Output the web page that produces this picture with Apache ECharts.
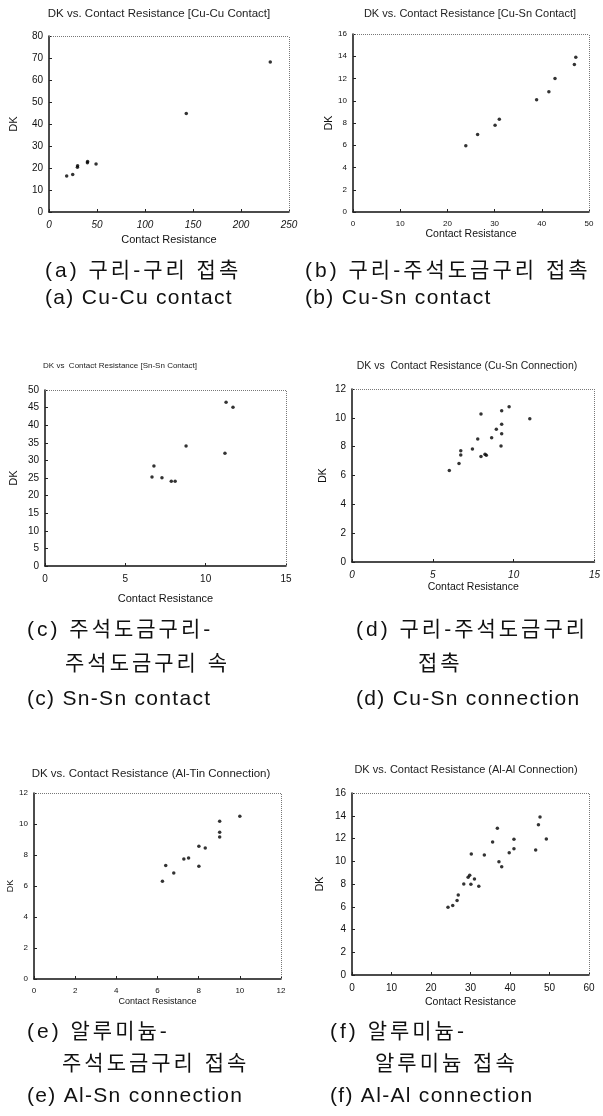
<!DOCTYPE html>
<html><head><meta charset="utf-8">
<script src="https://cdn.jsdelivr.net/npm/echarts@6/dist/echarts.min.js"></script>
<style>html,body{margin:0;padding:0;background:#fff}#c{width:603px;height:1116px}</style>
</head><body><div id="c"></div>
<script>
// ---------- data ----------
const xName = 'Contact Resistance';
const yName = 'DK';

const titleA = 'DK vs. Contact Resistance [Cu-Cu Contact]';
const titleB = 'DK vs. Contact Resistance [Cu-Sn Contact]';
const titleC = 'DK vs  Contact Resistance [Sn-Sn Contact]';
const titleD = 'DK vs  Contact Resistance (Cu-Sn Connection)';
const titleE = 'DK vs. Contact Resistance (Al-Tin Connection)';
const titleF = 'DK vs. Contact Resistance (Al-Al Connection)';

const xTicksA = [0, 50, 100, 150, 200, 250];
const yTicksA = [0, 10, 20, 30, 40, 50, 60, 70, 80];
const xA = [18.4, 24.7, 29.6, 29.8, 40.0, 40.2, 49.0, 143.0, 230.5];
const yA = [16.4, 17.1, 20.3, 21.0, 22.4, 23.0, 21.8, 44.8, 68.2];

const xTicksB = [0, 10, 20, 30, 40, 50];
const yTicksB = [0, 2, 4, 6, 8, 10, 12, 14, 16];
const xB = [23.9, 26.4, 30.1, 31.0, 38.9, 41.5, 42.8, 46.9, 47.2];
const yB = [5.95, 6.97, 7.8, 8.34, 10.08, 10.8, 12.0, 13.25, 13.9];

const xTicksC = [0, 5, 10, 15];
const yTicksC = [0, 5, 10, 15, 20, 25, 30, 35, 40, 45, 50];
const xC = [6.66, 6.78, 7.28, 7.86, 8.1, 8.78, 11.2, 11.27, 11.7];
const yC = [25.3, 28.4, 25.1, 24.05, 24.05, 34.1, 32.0, 46.5, 45.1];

const xTicksD = [0, 5, 10, 15];
const yTicksD = [0, 2, 4, 6, 8, 10, 12];
const xD = [6.02, 6.62, 6.73, 6.73, 7.45, 7.78, 7.98, 7.98, 8.23, 8.31, 8.64, 8.93, 9.22, 9.26, 9.26, 9.26, 9.72, 11.0];
const yD = [6.34, 6.84, 7.42, 7.72, 7.84, 8.53, 10.27, 7.31, 7.47, 7.4, 8.62, 9.2, 8.05, 8.9, 9.55, 10.5, 10.77, 9.94];

const xTicksE = [0, 2, 4, 6, 8, 10, 12];
const yTicksE = [0, 2, 4, 6, 8, 10, 12];
const xE = [6.24, 6.4, 6.79, 7.28, 7.51, 8.01, 8.01, 8.32, 9.02, 9.02, 9.02, 10.0];
const yE = [6.3, 7.33, 6.84, 7.74, 7.8, 8.56, 7.27, 8.45, 9.16, 9.46, 10.17, 10.5];

const xTicksF = [0, 10, 20, 30, 40, 50, 60];
const yTicksF = [0, 2, 4, 6, 8, 10, 12, 14, 16];
const xF = [24.3, 25.5, 26.6, 26.9, 28.3, 29.4, 29.8, 30.1, 30.2, 31.0, 32.1, 33.5, 35.6, 36.8, 37.2, 37.9, 39.8, 41.0, 41.0, 46.5, 47.2, 47.6, 49.2];
const yF = [5.95, 6.12, 6.56, 7.03, 8.0, 8.59, 8.76, 7.97, 10.64, 8.44, 7.8, 10.55, 11.7, 12.9, 9.96, 9.52, 10.75, 11.1, 11.93, 11.0, 13.2, 13.9, 11.96];

const captionA = ['(a) 구리-구리 접촉', '(a) Cu-Cu contact'];
const captionB = ['(b) 구리-주석도금구리 접촉', '(b) Cu-Sn contact'];
const captionC = ['(c) 주석도금구리-', '주석도금구리 속', '(c) Sn-Sn contact'];
const captionD = ['(d) 구리-주석도금구리', '접촉', '(d) Cu-Sn connection'];
const captionE = ['(e) 알루미늄-', '주석도금구리 접속', '(e) Al-Sn connection'];
const captionF = ['(f) 알루미늄-', '알루미늄 접속', '(f) Al-Al connection'];

// ---------- layout ----------
const FONT = '"Liberation Sans", Arial, sans-serif';
const CAPFONT = '"Liberation Sans", "Noto Sans CJK KR", sans-serif';
const HANGUL_LINE_SPACING = 3;
const LATIN_LINE_SPACING = 1.3;
const panels = [
  {x: xA, y: yA, xt: xTicksA, yt: yTicksA, title: titleA, grid: [49, 36, 240, 176], t: [159, 14, 11.5], lf: 10, xItalic: true,  xGap: 22, yGap: 30, nf: 11},
  {x: xB, y: yB, xt: xTicksB, yt: yTicksB, title: titleB, grid: [353, 34, 236, 178], t: [470, 14, 11],   lf: 8,  xItalic: false, xGap: 17, yGap: 18, nf: 10.5},
  {x: xC, y: yC, xt: xTicksC, yt: yTicksC, title: titleC, grid: [45, 390, 241, 176], t: [120, 366, 8],   lf: 10, xItalic: false, xGap: 27, yGap: 26, nf: 11},
  {x: xD, y: yD, xt: xTicksD, yt: yTicksD, title: titleD, grid: [352, 389, 243, 173], t: [467, 366, 10.5],lf: 10, xItalic: true,  xGap: 20, yGap: 23, nf: 10.5},
  {x: xE, y: yE, xt: xTicksE, yt: yTicksE, title: titleE, grid: [34, 793, 247, 186], t: [151, 774, 11.5],lf: 8,  xItalic: false, xGap: 18, yGap: 18, nf: 9},
  {x: xF, y: yF, xt: xTicksF, yt: yTicksF, title: titleF, grid: [352, 793, 237, 182], t: [466, 770, 11],  lf: 10, xItalic: false, xGap: 22, yGap: 26, nf: 10.5}
];

const captionLayout = [
  {lines: captionA, pos: [[45, 271], [45, 298]]},
  {lines: captionB, pos: [[305, 271], [305, 298]]},
  {lines: captionC, pos: [[27, 630], [65, 664], [27, 699]]},
  {lines: captionD, pos: [[356, 630], [418, 664], [356, 699]]},
  {lines: captionE, pos: [[27, 1032], [62, 1064], [27, 1096]]},
  {lines: captionF, pos: [[330, 1032], [375, 1064], [330, 1096]]}
];

// The printed captions are set with wide character spacing: paint the left-aligned
// caption lines (only they use the CJK font stack) glyph by glyph with extra advance.
(function () {
  const proto = window.CanvasRenderingContext2D && CanvasRenderingContext2D.prototype;
  if (!proto) return;
  const origFill = proto.fillText;
  proto.fillText = function (t, x, y, m) {
    const s = String(t);
    const al = this.textAlign;
    if (String(this.font).indexOf('Noto Sans CJK KR') >= 0 && (al === 'left' || al === 'start')) {
      const sp = /[\uac00-\ud7a3]/.test(s) ? HANGUL_LINE_SPACING : LATIN_LINE_SPACING;
      let cx = x;
      for (const ch of s) {
        origFill.call(this, ch, cx, y);
        cx += this.measureText(ch).width + sp;
      }
      return;
    }
    if (m === undefined) origFill.call(this, t, x, y); else origFill.call(this, t, x, y, m);
  };
})();

const grids = [], xAxes = [], yAxes = [], series = [], graphics = [];
panels.forEach((p, i) => {
  grids.push({left: p.grid[0], top: p.grid[1], width: p.grid[2], height: p.grid[3], show: false});
  const axisCommon = {
    type: 'value', gridIndex: i,
    axisLine: {show: true, onZero: false, lineStyle: {color: '#111', width: 1.5}},
    axisTick: {show: true, inside: true, length: 3, lineStyle: {color: '#222', width: 1}},
    splitLine: {show: false},
    nameLocation: 'middle',
    nameTextStyle: {color: '#111', fontFamily: FONT, fontSize: p.nf}
  };
  xAxes.push(Object.assign({}, axisCommon, {
    min: p.xt[0], max: p.xt[p.xt.length - 1], interval: p.xt[1] - p.xt[0],
    name: xName, nameGap: p.xGap,
    axisLabel: {color: '#111', fontFamily: FONT, fontSize: p.lf, fontStyle: p.xItalic ? 'italic' : 'normal', margin: 8, showMinLabel: true, showMaxLabel: true}
  }));
  yAxes.push(Object.assign({}, axisCommon, {
    min: p.yt[0], max: p.yt[p.yt.length - 1], interval: p.yt[1] - p.yt[0],
    name: yName, nameGap: p.yGap,
    axisLabel: {color: '#111', fontFamily: FONT, fontSize: p.lf, margin: 6, showMinLabel: true, showMaxLabel: true}
  }));
  const xmax = p.xt[p.xt.length - 1], ymax = p.yt[p.yt.length - 1];
  series.push({
    type: 'scatter', xAxisIndex: i, yAxisIndex: i,
    data: p.x.map((v, k) => [v, p.y[k]]),
    symbol: 'circle', symbolSize: 3.5,
    itemStyle: {color: '#000'},
    silent: true, animation: false,
    markLine: {
      silent: true, symbol: 'none', animation: false,
      label: {show: false},
      lineStyle: {type: 'dotted', color: '#777', width: 1},
      data: [{yAxis: ymax}, {xAxis: xmax}]
    }
  });
  graphics.push({
    type: 'text', x: p.t[0], y: p.t[1],
    style: {text: p.title, font: p.t[2] + 'px ' + FONT, fill: '#222',
            align: 'center', verticalAlign: 'middle', textAlign: 'center', textVerticalAlign: 'middle'}
  });
});

captionLayout.forEach(c => {
  c.lines.forEach((line, k) => {
    graphics.push({
      type: 'text', x: c.pos[k][0], y: c.pos[k][1],
      style: {text: line, font: '21px ' + CAPFONT, fill: '#111',
              align: 'left', verticalAlign: 'middle', textAlign: 'left', textVerticalAlign: 'middle'}
    });
  });
});

const chart = echarts.init(document.getElementById('c'), null, {renderer: 'canvas'});
chart.setOption({
  animation: false,
  backgroundColor: '#fff',
  grid: grids, xAxis: xAxes, yAxis: yAxes, series: series,
  graphic: graphics
});
</script></body></html>
